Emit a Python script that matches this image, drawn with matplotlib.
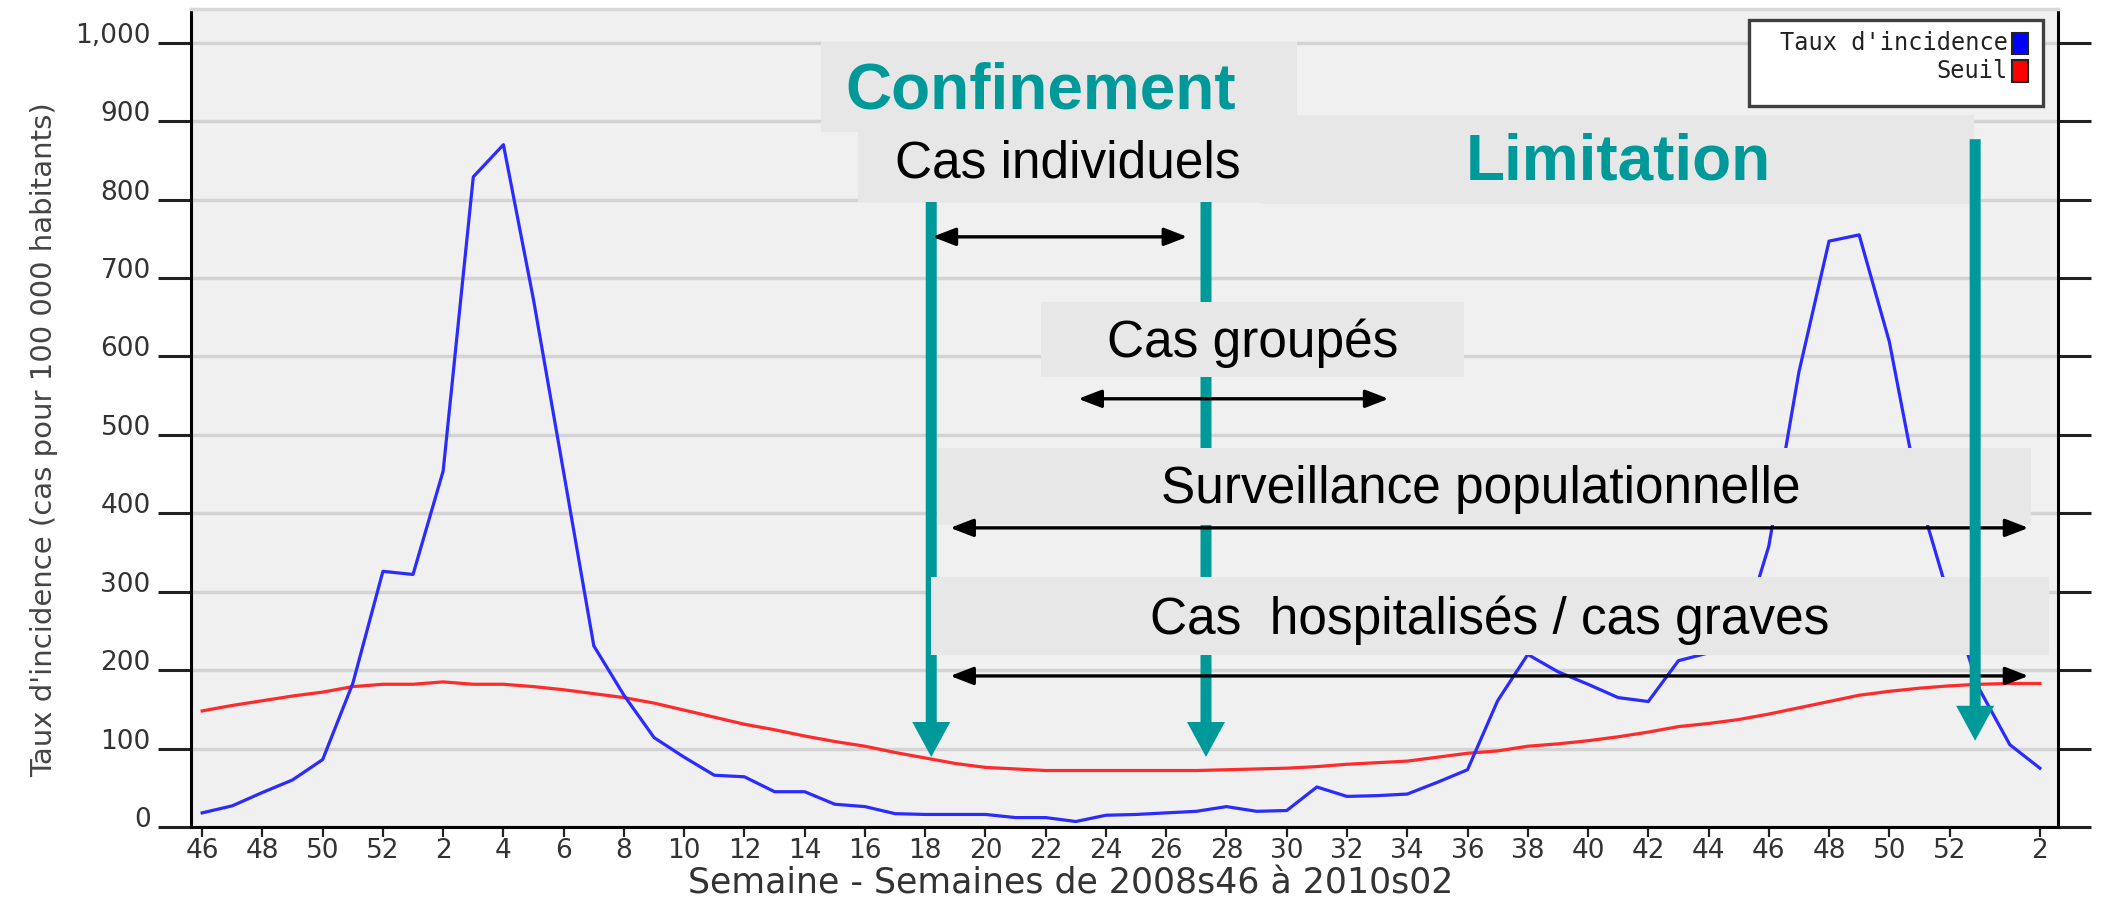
import matplotlib
matplotlib.use('Agg')
import matplotlib.pyplot as plt
from matplotlib import font_manager
from matplotlib.patches import Rectangle, FancyArrow
import numpy as np

# weekly series, 2008 week 46 -> 2010 week 02 (2009 has 53 weeks)
weeks = list(range(46, 53)) + list(range(1, 54)) + [1, 2]
incidence = [18, 27, 44, 60, 86, 183, 326, 322, 454, 829,
             870, 672, 452, 231, 168, 114, 89, 66, 64, 45,
             45, 29, 26, 17, 16, 16, 16, 12, 12, 7,
             15, 16, 18, 20, 26, 20, 21, 51, 39, 40,
             42, 57, 73, 161, 220, 198, 182, 165, 160, 212,
             222, 232, 358, 580, 747, 755, 619, 420, 290, 175,
             105, 75]
seuil = [148, 155, 161, 167, 172, 179, 182, 182, 185, 182,
         182, 179, 175, 170, 165, 158, 149, 140, 131, 124,
         116, 109, 103, 95, 88, 81, 76, 74, 72, 72,
         72, 72, 72, 72, 73, 74, 75, 77, 80, 82,
         84, 89, 94, 97, 103, 106, 110, 115, 121, 128,
         132, 137, 144, 152, 160, 168, 173, 177, 180, 182,
         183, 183]
y_ticks = list(range(0, 1001, 100))
y_ticklabels = ['0', '100', '200', '300', '400', '500', '600', '700', '800', '900', '1,000']

TEAL = '#009999'
BOX = '#e7e7e7'
W, H = 2106, 900

names = {f.name for f in font_manager.fontManager.ttflist}
tick_font = 'Liberation Sans Narrow' if 'Liberation Sans Narrow' in names else 'DejaVu Sans'
tick_size = 21 if tick_font == 'Liberation Sans Narrow' else 19


def fx(p):
    return p / W


def fy(p):
    return 1 - p / H


fig = plt.figure(figsize=(W / 100, H / 100), dpi=100)
ax = fig.add_axes([fx(191), fy(827), (2058 - 191) / W, (827 - 9) / H])
ax.set_facecolor('#f0f0f0')

x = np.arange(len(weeks))
ax.plot(x, seuil, color='#ff2a2a', lw=2.3, zorder=2)
ax.plot(x, incidence, color='#2b2bff', lw=2.3, zorder=2.1)

ax.set_xlim(-0.37, 61.6)
ax.set_ylim(0, 1043)
tick_idx = [i for i, w in enumerate(weeks) if w % 2 == 0]
ax.set_xticks(tick_idx)
ax.set_xticklabels([str(weeks[i]) for i in tick_idx])
ax.set_yticks(y_ticks)
ax.set_yticklabels(y_ticklabels)
for lab in ax.get_yticklabels() + ax.get_xticklabels():
    lab.set_fontfamily(tick_font)
    lab.set_fontsize(tick_size)
    lab.set_color('#333333')
for lab in ax.get_yticklabels():
    lab.set_verticalalignment('baseline')

ax.grid(axis='y', color='#d3d3d3', lw=2.5)
ax.set_axisbelow(True)
ax.tick_params(axis='y', length=24, width=2.2, color='#222222', left=True,
               right=True, labelright=False, pad=5)
ax.tick_params(axis='x', length=7, width=1.6, color='#222222', pad=1)
for s in ['left', 'bottom', 'right']:
    ax.spines[s].set_linewidth(2.2)
    ax.spines[s].set_color('black')
ax.spines['top'].set_color('#d8d8d8')
ax.spines['top'].set_linewidth(2.5)

fig.text(fx(44), fy(440), "Taux d'incidence (cas pour 100 000 habitants)",
         rotation=90, ha='center', va='center', fontsize=21, color='#444444')
fig.text(fx(1071), fy(884), 'Semaine - Semaines de 2008s46 à 2010s02',
         ha='center', va='center', fontsize=25, color='#333333')

# overlay: grey label boxes (x0, x1, y0, y1 in week index / incidence units)
boxes = [
    (35.13, 58.80, 794.6, 908.0),   # Limitation
    (20.55, 36.35, 886.5, 1001.0),  # Confinement
    (21.78, 35.13, 797.0, 886.5),   # Cas individuels
    (27.86, 41.87, 574.0, 669.6),   # Cas groupés
    (24.40, 60.70, 384.6, 483.4),   # Surveillance
    (24.20, 61.30, 219.4, 318.9),   # hospitalisés
]
for x0, x1, y0, y1 in boxes:
    ax.add_patch(Rectangle((x0, y0), x1 - x0, y1 - y0, facecolor=BOX,
                           edgecolor='none', zorder=4))

# teal vertical arrows
for xa, ytop, ytip, z in [(24.2, 799.7, 89.3, 3), (33.32, 799.7, 89.3, 3),
                          (58.85, 877.0, 110.0, 6)]:
    ax.add_patch(FancyArrow(xa, ytop, 0, ytip - ytop, width=0.365,
                            head_width=1.26, head_length=44.6,
                            length_includes_head=True, color=TEAL, lw=0,
                            zorder=z))

# black double arrows
for x0, x1, ya in [(24.24, 32.70, 752.5), (29.08, 39.38, 546.0),
                   (24.83, 60.62, 381.4), (24.83, 60.62, 192.6)]:
    ax.annotate('', xy=(x1, ya), xytext=(x0, ya),
                arrowprops=dict(arrowstyle='<|-|>,head_length=0.7,head_width=0.27',
                                mutation_scale=20, lw=2.4, color='black',
                                shrinkA=0, shrinkB=0), zorder=5)

txt = dict(ha='center', va='baseline', family='Liberation Sans', zorder=5)
ax.text(27.82, 915.8, 'Confinement', color=TEAL, fontsize=46, weight='bold', **txt)
ax.text(47.0, 825.0, 'Limitation', color=TEAL, fontsize=46, weight='bold', **txt)
ax.text(28.72, 827.8, 'Cas individuels', color='black', fontsize=37, **txt)
ax.text(34.86, 599.5, 'Cas groupés', color='black', fontsize=37, **txt)
ax.text(42.43, 413.0, 'Surveillance populationnelle', color='black', fontsize=37, **txt)
ax.text(42.73, 246.0, 'Cas  hospitalisés / cas graves', color='black', fontsize=37, **txt)

# legend box
fig.add_artist(Rectangle((fx(1749), fy(106)), 294 / W, 86 / H,
                         transform=fig.transFigure, facecolor='white',
                         edgecolor='#404040', lw=2.4, zorder=10))
fig.text(fx(2008), fy(43), "Taux d'incidence", ha='right', va='center',
         family='DejaVu Sans Mono', fontsize=17, color='#222222', zorder=11)
fig.text(fx(2008), fy(71), 'Seuil', ha='right', va='center',
         family='DejaVu Sans Mono', fontsize=17, color='#222222', zorder=11)
fig.add_artist(Rectangle((fx(2012), fy(54)), 16 / W, 21 / H,
                         transform=fig.transFigure, facecolor='#0000ff',
                         edgecolor='#222222', lw=1.5, zorder=11))
fig.add_artist(Rectangle((fx(2012), fy(82)), 16 / W, 22 / H,
                         transform=fig.transFigure, facecolor='#ff0000',
                         edgecolor='#222222', lw=1.5, zorder=11))

fig.savefig('out.png', dpi=100)
